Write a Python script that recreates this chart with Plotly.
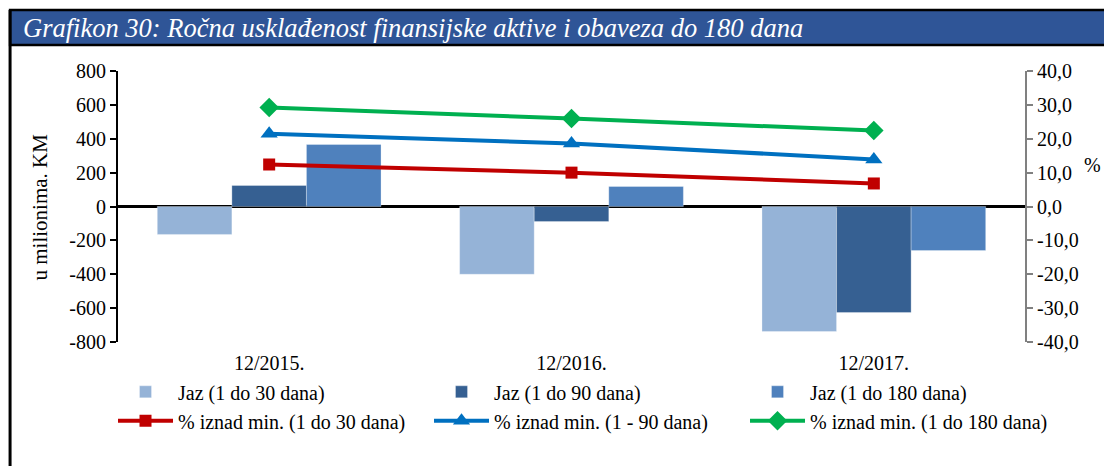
import plotly.graph_objects as go

categories = ["12/2015.", "12/2016.", "12/2017."]
jaz_30 = [-165, -400, -738]
jaz_90 = [124, -89, -626]
jaz_180 = [366, 118, -260]
pct_30 = [12.4, 10.0, 6.8]
pct_90 = [21.5, 18.6, 13.9]
pct_180 = [29.2, 26.0, 22.4]

left_ticks = [800, 600, 400, 200, 0, -200, -400, -600, -800]
left_tick_text = ["800", "600", "400", "200", "0", "-200", "-400", "-600", "-800"]
right_ticks = [40, 30, 20, 10, 0, -10, -20, -30, -40]
right_tick_text = ["40,0", "30,0", "20,0", "10,0", "0,0", "-10,0", "-20,0", "-30,0", "-40,0"]

FONT = "Liberation Serif, Times New Roman, DejaVu Serif, serif"

fig = go.Figure()
bar_specs = [
    ("Jaz (1 do 30 dana)", jaz_30, "#95B3D7"),
    ("Jaz (1 do 90 dana)", jaz_90, "#366092"),
    ("Jaz (1 do 180 dana)", jaz_180, "#4F81BD"),
]
for name, vals, col in bar_specs:
    fig.add_trace(go.Bar(x=categories, y=vals, name=name,
                         marker=dict(color=col, line=dict(width=0.6, color="rgba(255,255,255,0.5)")),
                         yaxis="y"))

line_specs = [
    ("% iznad min. (1 do 30 dana)", pct_30, "#C00000", "square", 12),
    ("% iznad min. (1 - 90 dana)", pct_90, "#0070C0", "triangle-up", 15),
    ("% iznad min. (1 do 180 dana)", pct_180, "#00B050", "diamond", 15),
]
for name, vals, col, sym, sz in line_specs:
    fig.add_trace(go.Scatter(x=categories, y=vals, name=name, mode="lines+markers",
                             line=dict(color=col, width=4),
                             marker=dict(symbol=sym, size=sz, color=col), yaxis="y2"))

fig.update_layout(
    width=1104, height=466,
    margin=dict(l=118, r=79, t=71, b=124, autoexpand=False),
    paper_bgcolor="white", plot_bgcolor="white",
    font=dict(family=FONT, size=20, color="black"),
    barmode="group", bargap=0.26, bargroupgap=0,
    showlegend=True,
    legend=dict(orientation="h", x=-0.0055, y=-0.112, xanchor="left", yanchor="top",
                entrywidth=246, entrywidthmode="pixels", traceorder="normal",
                font=dict(family=FONT, size=20), itemwidth=55, tracegroupgap=0),
    xaxis=dict(showline=False, ticks="", showgrid=False, tickfont=dict(size=20),
               ticklabelstandoff=7),
    yaxis=dict(range=[-800, 800], tickvals=left_ticks, ticktext=left_tick_text, showgrid=False,
               showline=True, linecolor="black", linewidth=2, ticks="outside",
               ticklen=6, tickwidth=2, tickcolor="black",
               zeroline=True, zerolinecolor="black", zerolinewidth=2.5,
               tickfont=dict(size=20)),
    yaxis2=dict(range=[-40, 40], tickvals=right_ticks, ticktext=right_tick_text,
                overlaying="y", side="right", showgrid=False, zeroline=False,
                showline=True, linecolor="#808080", linewidth=2, ticks="outside",
                ticklen=6, tickwidth=2, tickcolor="#808080", tickfont=dict(size=20)),
    shapes=[
        dict(type="rect", xref="paper", yref="paper", x0=-0.119, x1=1.09, y0=1.096, y1=1.225,
             fillcolor="#2F5597", line=dict(color="black", width=2.5), layer="above"),
        dict(type="line", xref="paper", yref="paper", x0=-0.119, x1=-0.119, y0=-0.46, y1=1.225,
             line=dict(color="black", width=3)),
    ],
    annotations=[
        dict(text="<i>Grafikon 30: Ročna usklađenost finansijske aktive i obaveza do 180 dana</i>",
             xref="paper", yref="paper", x=-0.107, y=1.16, xanchor="left", yanchor="middle",
             showarrow=False, font=dict(family=FONT, size=26.5, color="white")),
        dict(text="u milionima. KM", xref="paper", yref="paper", x=-0.086, y=0.5,
             textangle=-90, showarrow=False, font=dict(family=FONT, size=21),
             xanchor="center", yanchor="middle"),
        dict(text="%", xref="paper", yref="paper", x=1.074, y=0.653, showarrow=False,
             font=dict(family=FONT, size=20), xanchor="center", yanchor="middle"),
    ],
)

fig.write_html("out.html", post_script="document.body.style.margin='0';",
               config={"displayModeBar": False})
